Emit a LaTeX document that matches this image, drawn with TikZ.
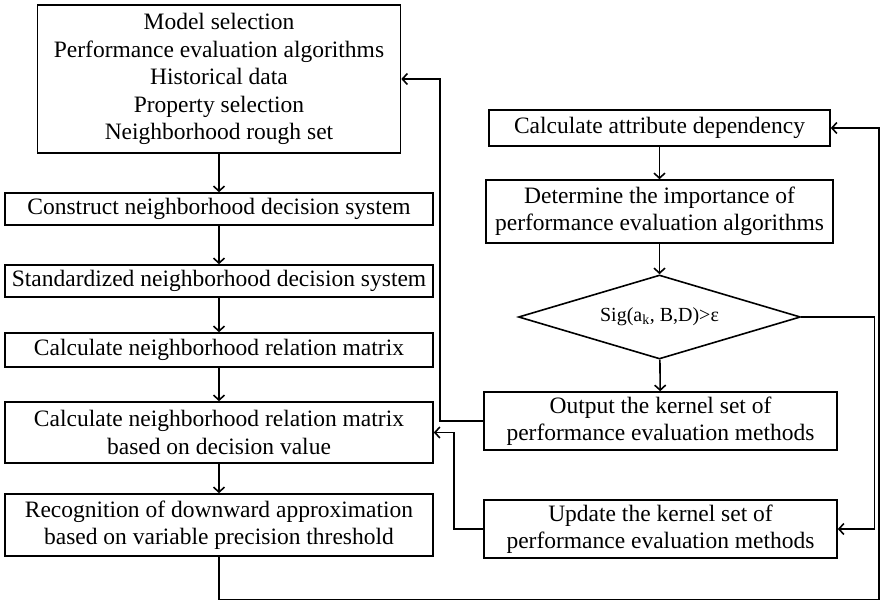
\documentclass[tikz,border=0pt]{standalone}
\usepackage{fontspec}
\setmainfont{Liberation Serif}
\usetikzlibrary{arrows.meta,shapes.geometric}

\begin{document}
\begin{tikzpicture}[x=1pt,y=-1pt,>={Straight Barb[length=5pt,width=11pt]},line width=1.6pt,
 box/.style={draw,align=center,inner sep=1pt,font=\fontsize{23.5}{27.5}\selectfont},
 lbox/.style={box,minimum width=428pt},
 rbox/.style={box,minimum width=353pt},
 decide/.style={draw,diamond,aspect=3.36,inner sep=0pt,minimum width=282pt,
 minimum height=84pt,font=\fontsize{20}{23}\selectfont}]
\useasboundingbox (0,0) rectangle (881,601);
% left column
\node[box,minimum width=363pt,minimum height=148pt] (inputs) at (219,79)
 {Model selection\\Performance evaluation algorithms\\Historical data\\Property selection\\Neighborhood rough set};
\node[lbox,minimum height=32pt] (construct) at (219,209) {Construct neighborhood decision system};
\node[lbox,minimum height=32pt] (standard) at (219,281) {Standardized neighborhood decision system};
\node[lbox,minimum height=34pt] (relmat) at (219,350) {Calculate neighborhood relation matrix};
\node[lbox,minimum height=61pt] (decval) at (219,432.5) {Calculate neighborhood relation matrix\\based on decision value};
\node[lbox,minimum height=62pt] (recog) at (219,525) {Recognition of downward approximation\\based on variable precision threshold};
% right column
\node[box,minimum width=341pt,minimum height=36pt] (attrdep) at (659.5,128) {Calculate attribute dependency};
\node[box,minimum width=347pt,minimum height=63pt] (importance) at (659.5,211.5) {Determine the importance of\\performance evaluation algorithms};
\node[decide] (sig) at (659.5,317) {Sig(a\textsubscript{k}, B,D)>ε};
\node[rbox,minimum height=58pt] (kernel) at (660.5,421) {Output the kernel set of\\performance evaluation methods};
\node[rbox,minimum height=58pt] (update) at (660.5,529) {Update the kernel set of\\performance evaluation methods};
\coordinate (loop) at (879,599.5);

\draw[->] (inputs) -- (construct);
\draw[->] (construct) -- (standard);
\draw[->] (standard) -- (relmat);
\draw[->] (relmat) -- (decval);
\draw[->] (decval) -- (recog);
\draw[->] (attrdep) -- (importance);
\draw[->] (importance) -- (sig);
\draw[->] (sig) -- (kernel);
\draw[->] (kernel.west) -- ++(-43,0) |- (inputs.east);
\draw[->] (update.west) -- ++(-29,0) |- (decval.east);
\draw[->] (sig.east) -- ++(73,0) |- (update.east);
\draw[->] (recog.south) |- (loop) |- (attrdep.east);
\end{tikzpicture}
\end{document}
